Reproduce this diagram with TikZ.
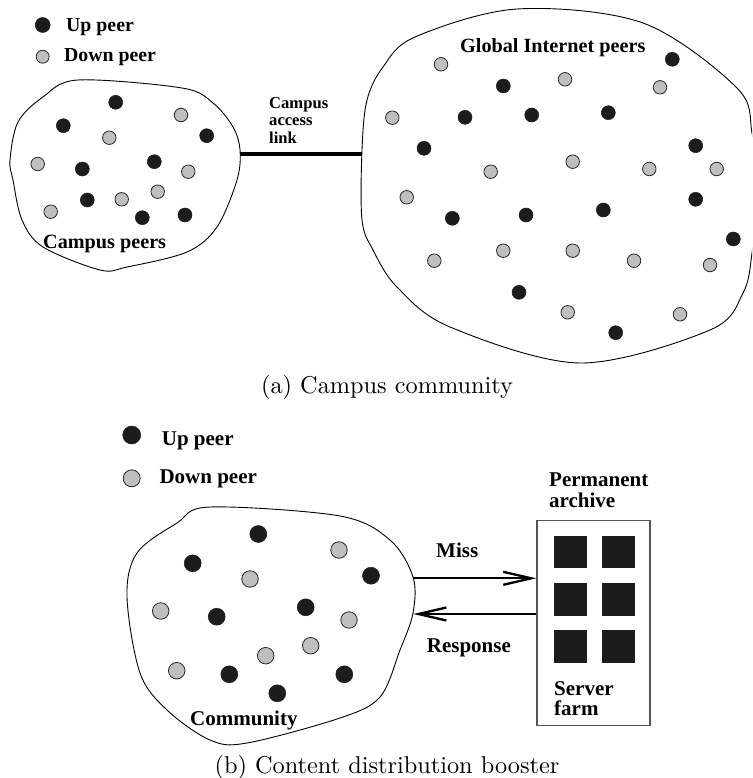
\documentclass[tikz,border=0pt]{standalone}
\usepackage{fontspec}
\newfontfamily\labfont{Liberation Serif}
\usetikzlibrary{arrows.meta}
\definecolor{dotblack}{HTML}{1C1C1C}
\definecolor{dotgray}{HTML}{BFBFBF}
\definecolor{boxgray}{HTML}{555555}
\tikzset{
  updot/.style={circle, fill=dotblack, draw=dotblack, line width=0.5pt, inner sep=0pt, minimum size=#1},
  downdot/.style={circle, fill=dotgray, draw=black!85, line width=0.8pt, inner sep=0pt, minimum size=#1},
  blob/.style={draw=black, line width=0.9pt},
  labA/.style={font=\labfont\bfseries\fontsize{19.8}{21}\selectfont, inner sep=0pt, anchor=base west},
  labB/.style={font=\labfont\bfseries\fontsize{20.2}{21}\selectfont, inner sep=0pt, anchor=base west},
  labS/.style={font=\labfont\bfseries\fontsize{16.6}{18}\selectfont, inner sep=0pt, anchor=base west},
  labC/.style={font=\labfont\bfseries\fontsize{21}{22}\selectfont, inner sep=0pt, anchor=base west},
  captionlab/.style={inner sep=0pt, anchor=base},
  arr/.style={line width=2.3pt, -{Straight Barb[length=28pt,width=13pt]}},
  server/.style={fill=dotblack, draw=none, minimum width=33pt, minimum height=32.5pt, inner sep=0pt},
}
\begin{document}
\begin{tikzpicture}[x=1pt,y=-1pt]
\useasboundingbox (0,0) rectangle (752,778);
\clip (0,0) rectangle (752,778);
% ---------------- (a) ----------------
\node[updot=15pt] (la1) at (42.7,25) {};
\node[downdot=13pt] (la2) at (42.7,56.7) {};
\node[labA] (tup) at (66,31.5) {Up peer};
\node[labA] (tdown) at (64,61.7) {Down peer};

% campus blob
\draw[blob] plot[smooth cycle, tension=0.55] coordinates {
 (78,80) (182,88) (213,103) (233,127) (240,150) (237,180) (217,227) (187,252)
 (127,267) (100,270) (43,247) (22,220) (13,180) (10,160) (18,122) (43,97)};
% global blob
\draw[blob] plot[smooth cycle, tension=0.55] coordinates {
 (415,37) (517,9) (643,23) (737,88) (752,133) (757,190) (752,253) (743,293)
 (710,330) (580,363) (450,327) (397,287) (373,250) (362,220) (362,150) (367,100) (383,67)};

\coordinate (linkA) at (240,154);
\coordinate (linkB) at (361.5,154);
\draw[line width=3.6pt] (linkA) -- (linkB);
\node[labS] (ca1) at (269,108.3) {Campus};
\node[labS] (ca2) at (269,125.8) {access};
\node[labS] (ca3) at (269,143.3) {link};

\node[labB] (tcampus) at (43,248) {Campus peers};
\node[labB] (tglobal) at (460,52.3) {Global Internet peers};

\foreach \p [count=\i] in {(115.7,102.3),(63.3,125.7),(206.7,135.7),(82.3,169),(154.3,161.7),(87.3,200),(142.3,217.7),(185,215)}
  \node[updot=14pt] (cu\i) at \p {};
\foreach \p [count=\i] in {(181,115),(109.3,137.7),(37.7,164),(188.3,171.7),(157.7,191.7),(121.7,199.3),(50.7,211.7)}
  \node[downdot=13.5pt] (cd\i) at \p {};
\foreach \p [count=\i] in {(672.3,59.3),(503.3,86),(465,117.3),(531.7,115),(608.3,112.7),(424,148.3),(695.7,145.7),(695.7,199.3),(452.3,218.3),(526,215),(603.3,210),(733.3,239),(519,292.3),(615.7,332.7)}
  \node[updot=14pt] (gu\i) at \p {};
\foreach \p [count=\i] in {(441,64.3),(565,79.3),(660,87.3),(392.3,117.7),(572.7,161.7),(490.7,171.7),(649.3,169),(716.7,169),(406.7,197.3),(503.3,250.7),(572.7,250.7),(634,260.7),(434.3,260.7),(710,265),(567.7,312.3),(680,314.3)}
  \node[downdot=13.5pt] (gd\i) at \p {};

\node[captionlab] (capa) at (387,393) {\scalebox{2.43}{\fontsize{10}{12}\selectfont (a) Campus community}};

% ---------------- (b) ----------------
\node[updot=18pt] (lb1) at (131.7,435) {};
\node[downdot=17pt] (lb2) at (131.7,478.3) {};
\node[labC] (bup) at (161.7,445) {Up peer};
\node[labC] (bdown) at (159.3,483.3) {Down peer};

\draw[blob] plot[smooth cycle, tension=0.55] coordinates {
 (210,507) (340,516) (390,540) (413,577) (413,613) (400,650) (380,697) (340,718)
 (247,743) (210,740) (167,710) (140,673) (127,597) (137,553) (177,523)};

\foreach \p [count=\i] in {(258.3,534),(192.7,563.3),(371,575.7),(305.7,607.3),(216.7,616.7),(229.3,674.3),(344.3,674.3),(277.3,693.3)}
  \node[updot=17pt] (bu\i) at \p {};
\foreach \p [count=\i] in {(339,550),(250,579),(160.7,611),(349,620),(310.7,645.7),(265.7,655.7),(176.7,670.7)}
  \node[downdot=16.5pt] (bd\i) at \p {};
\node[labC] (tcomm) at (190,725) {Community};

% server farm box
\node[draw=boxgray, line width=1.3pt, minimum width=113pt, minimum height=205pt, inner sep=0pt] (farm) at (593.5,623.2) {};
\foreach \x/\y [count=\i] in {570.8/552.2, 618.5/552.2, 570.8/599.5, 618.5/599.5, 570.8/646.4, 618.5/646.4}
  \node[server] (sv\i) at (\x,\y) {};
\node[labC] (perm1) at (549,486.7) {Permanent};
\node[labC] (perm2) at (549,507.7) {archive};
\node[labC] (srv1) at (554,695) {Server};
\node[labC] (srv2) at (554,715) {farm};

\coordinate (missA) at (413.3,578.3);
\coordinate (respB) at (413.3,614);
\draw[arr] (missA) -- (farm.west |- missA);
\draw[arr] (farm.west |- respB) -- (respB);
\node[labC] (tmiss) at (436,557.3) {Miss};
\node[labC] (tresp) at (426.7,652.3) {Response};

\node[captionlab] (capb) at (387,773) {\scalebox{2.43}{\fontsize{10}{12}\selectfont (b) Content distribution booster}};
\end{tikzpicture}
\end{document}
